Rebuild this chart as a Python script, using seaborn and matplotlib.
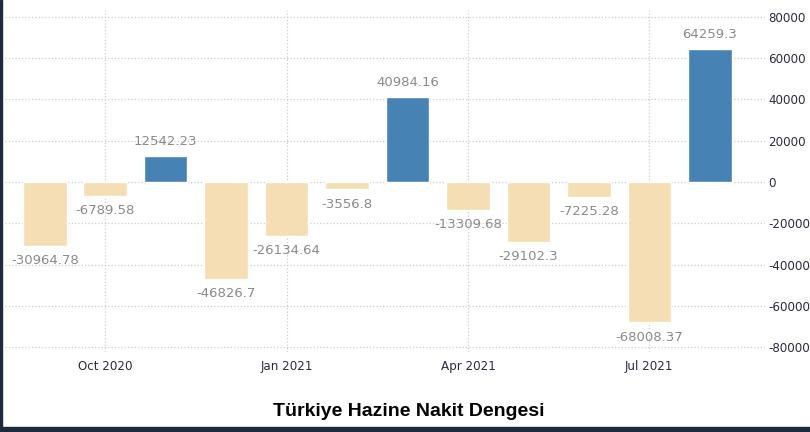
import matplotlib
matplotlib.use("Agg")
import matplotlib.pyplot as plt
import matplotlib.patches as mpatches
import seaborn as sns
import pandas as pd

months = ["Sep 2020", "Oct 2020", "Nov 2020", "Dec 2020", "Jan 2021", "Feb 2021",
          "Mar 2021", "Apr 2021", "May 2021", "Jun 2021", "Jul 2021", "Aug 2021"]
values = [-30964.78, -6789.58, 12542.23, -46826.7, -26134.64, -3556.8,
          40984.16, -13309.68, -29102.3, -7225.28, -68008.37, 64259.3]
labels = ["-30964.78", "-6789.58", "12542.23", "-46826.7", "-26134.64", "-3556.8",
          "40984.16", "-13309.68", "-29102.3", "-7225.28", "-68008.37", "64259.3"]
tick_months = ["Oct 2020", "Jan 2021", "Apr 2021", "Jul 2021"]
yticks = [80000, 60000, 40000, 20000, 0, -20000, -40000, -60000, -80000]

df = pd.DataFrame({"month": months, "value": values})
df["sign"] = ["pos" if v >= 0 else "neg" for v in values]

sns.set_style("white")
plt.rcParams["font.family"] = ["DejaVu Sans"]

fig = plt.figure(figsize=(8.1, 4.32), dpi=100)
ax = fig.add_axes([0.006, 0.185, 0.939, 0.792])

sns.barplot(data=df, x="month", y="value", hue="sign",
            palette={"pos": "#4682b4", "neg": "#f5deb3"}, saturation=1,
            dodge=False, width=0.72, legend=False, ax=ax)

for i, (v, lab) in enumerate(zip(values, labels)):
    off = 6 if v >= 0 else -6
    ax.annotate(lab, (i, v), xytext=(0, off), textcoords="offset points",
                ha="center", va="bottom" if v >= 0 else "top",
                fontsize=9.5, color="#8a8a8a")

ax.set_xlim(-0.66, 11.92)
ax.set_ylim(-82400, 83400)
ax.set_yticks(yticks)
ax.set_yticklabels([str(t) for t in yticks])
ax.yaxis.tick_right()
ax.set_xticks([months.index(m) for m in tick_months])
ax.set_xticklabels(tick_months)
ax.tick_params(axis="both", length=0, labelsize=8.6, colors="#2b2b3b")
ax.tick_params(axis="y", pad=2)
ax.tick_params(axis="x", pad=6)
ax.set_xlabel("")
ax.set_ylabel("")
ax.grid(True, linestyle=":", color="#cccccc", linewidth=0.9)
ax.set_axisbelow(True)
for s in ax.spines.values():
    s.set_visible(False)

fig.text(0.505, 0.048, "Türkiye Hazine Nakit Dengesi", ha="center", va="center",
         fontsize=14, fontweight="bold", color="black",
         family=["Liberation Sans", "DejaVu Sans"])

# dark frame edges
fig.patches.append(mpatches.Rectangle((0, 0), 0.0025, 1, transform=fig.transFigure,
                                      color="#1b2b3b", zorder=10))
fig.patches.append(mpatches.Rectangle((0, 0), 1, 0.012, transform=fig.transFigure,
                                      color="#1b2b3b", zorder=10))

fig.savefig("out.png", dpi=100)
plt.close(fig)
